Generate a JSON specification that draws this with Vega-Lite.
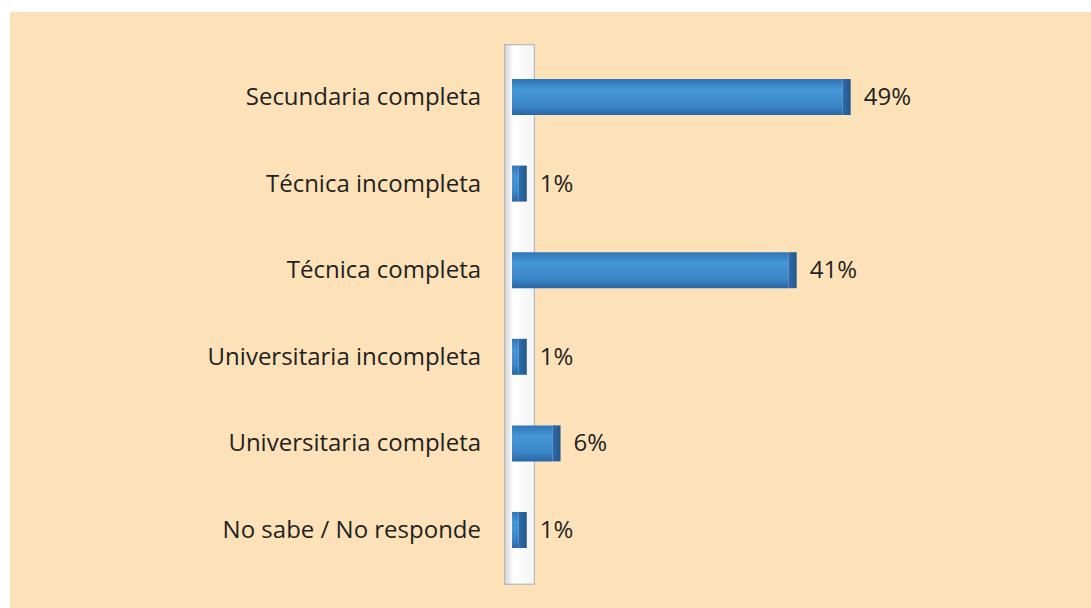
{
  "$schema": "https://vega.github.io/schema/vega-lite/v6.json",
  "width": 1081,
  "height": 596,
  "autosize": {"type": "none"},
  "padding": {"left": 10, "top": 12, "right": 0, "bottom": 0},
  "background": "white",
  "config": {"view": {"fill": "#FDE2B9", "stroke": null}},
  "data": {
    "values": [
      {"nivel": "Secundaria completa", "pct": 49, "label": "49%"},
      {"nivel": "Técnica incompleta", "pct": 1, "label": "1%"},
      {"nivel": "Técnica completa", "pct": 41, "label": "41%"},
      {"nivel": "Universitaria incompleta", "pct": 1, "label": "1%"},
      {"nivel": "Universitaria completa", "pct": 6, "label": "6%"},
      {"nivel": "No sabe / No responde", "pct": 1, "label": "1%"}
    ]
  },
  "layer": [
    {
      "mark": {"type": "rect", "fill": {"gradient": "linear", "x1": 0, "y1": 0, "x2": 1, "y2": 0, "stops": [{"offset": 0, "color": "#d4d4d4"}, {"offset": 0.3, "color": "#ffffff"}, {"offset": 1, "color": "#f4f4f4"}]}, "stroke": "#b5b5b5", "strokeWidth": 1},
      "encoding": {
        "x": {"datum": -1.1, "type": "quantitative", "scale": {"domain": [-74.4, 85.8], "nice": false, "zero": false}, "axis": null},
        "x2": {"datum": 3.3},
        "y": {"datum": 0.055, "type": "quantitative", "scale": {"domain": [0, 1], "reverse": true, "nice": false}, "axis": null},
        "y2": {"datum": 0.96}
      }
    },
    {
      "encoding": {
        "y": {"field": "nivel", "type": "nominal", "sort": null, "axis": null,
              "scale": {"paddingInner": 0.584, "paddingOuter": 0.733, "range": [3.5, 599.5]}}
      },
      "layer": [
        {
          "mark": {"type": "bar", "color": {"gradient": "linear", "x1": 0, "y1": 0, "x2": 0, "y2": 1, "stops": [{"offset": 0, "color": "#2f74b8"}, {"offset": 0.3, "color": "#4697d6"}, {"offset": 0.75, "color": "#3a85c6"}, {"offset": 1, "color": "#2a66a6"}]}},
          "encoding": {
            "x": {"field": "pct", "type": "quantitative", "scale": {"domain": [-74.4, 85.8], "nice": false, "zero": false}, "axis": null},
            "x2": {"datum": 0}
          }
        },
        {
          "mark": {"type": "tick", "orient": "vertical", "thickness": 8, "size": 36, "xOffset": 4, "opacity": 1, "color": {"gradient": "linear", "x1": 0, "y1": 0, "x2": 1, "y2": 0, "stops": [{"offset": 0, "color": "#2d6aab"}, {"offset": 1, "color": "#23578f"}]}},
          "encoding": {
            "x": {"field": "pct", "type": "quantitative"}
          }
        },
        {
          "mark": {"type": "text", "align": "left", "baseline": "middle", "dx": 21, "dy": 1, "font": "Open Sans", "fontSize": 24, "color": "#231f20"},
          "encoding": {
            "x": {"field": "pct", "type": "quantitative"},
            "text": {"field": "label"}
          }
        },
        {
          "mark": {"type": "text", "align": "right", "baseline": "middle", "dx": -31, "dy": 1, "font": "Open Sans", "fontSize": 24, "color": "#231f20"},
          "encoding": {
            "x": {"datum": 0, "type": "quantitative"},
            "text": {"field": "nivel"}
          }
        }
      ]
    }
  ],
  "resolve": {"scale": {"y": "independent"}}
}
